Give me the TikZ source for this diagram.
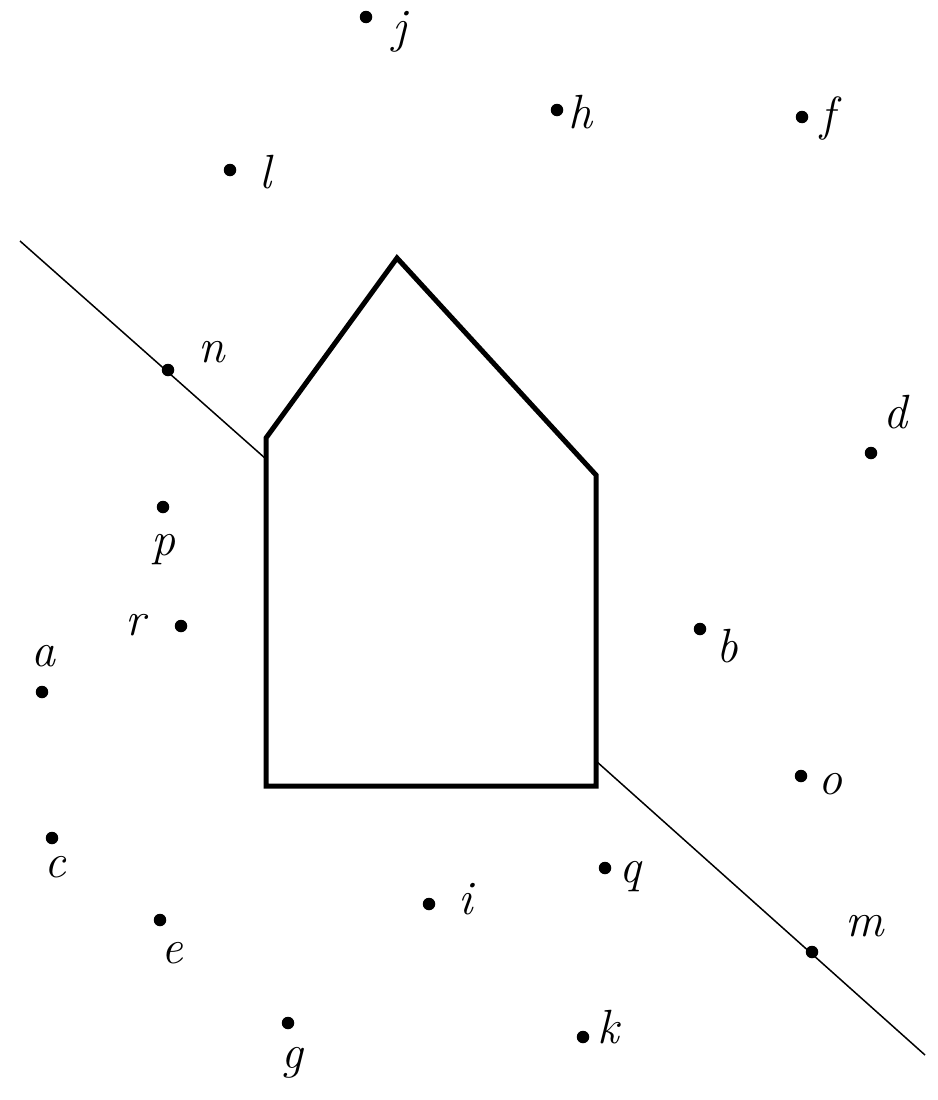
\documentclass[tikz,border=0pt]{standalone}
\begin{document}
\begin{tikzpicture}[x=1pt,y=-1pt,
  pt/.style={circle,fill=black,inner sep=0pt,minimum size=12.5pt},
  lbl/.style={anchor=base,inner sep=0pt,font=\fontsize{48}{54}\selectfont\itshape},
  house/.style={line width=5pt,line join=miter},
  thin/.style={line width=1.5pt}]
\useasboundingbox (0,0) rectangle (937,1100);
% house
\coordinate (h1) at (266,438);
\coordinate (h2) at (397,258);
\coordinate (h3) at (596,475);
\coordinate (h4) at (596,786);
\coordinate (h5) at (266,786);
\draw[house] (h1) -- (h2) -- (h3) -- (h4) -- (h5) -- cycle;
% line
\coordinate (l1) at (20,241);
\coordinate (l2) at (266,459);
\coordinate (l3) at (596,761);
\coordinate (l4) at (925,1055);
\draw[thin] (l1) -- (l2);
\draw[thin] (l3) -- (l4);
% points
\node[pt] (j) at (366,17) {};   \node[lbl] (tj) at (400,42) {j};
\node[pt] (h) at (557,110) {};  \node[lbl] (th) at (580,128) {h};
\node[pt] (f) at (802,117) {};  \node[lbl] (tf) at (828,130) {f};
\node[pt] (l) at (230,170) {};  \node[lbl] (tl) at (265,188) {l};
\node[pt] (n) at (168,370) {};  \node[lbl] (tn) at (212,362) {n};
\node[pt] (d) at (871,453) {};  \node[lbl] (td) at (895,428) {d};
\node[pt] (p) at (163,507) {};  \node[lbl] (tp) at (163,555) {p};
\node[pt] (r) at (181,626) {};  \node[lbl] (tr) at (135,635) {r};
\node[pt] (a) at (42,692) {};   \node[lbl] (ta) at (43,666) {a};
\node[pt] (b) at (700,629) {};  \node[lbl] (tb) at (727,662) {b};
\node[pt] (o) at (801,776) {};  \node[lbl] (to) at (830,794) {o};
\node[pt] (c) at (52,838) {};   \node[lbl] (tc) at (55,877) {c};
\node[pt] (q) at (605,868) {};  \node[lbl] (tq) at (630,882) {q};
\node[pt] (i) at (429,904) {};  \node[lbl] (ti) at (466,914) {i};
\node[pt] (e) at (160,920) {};  \node[lbl] (te) at (172,963) {e};
\node[pt] (m) at (812,952) {};  \node[lbl] (tm) at (865,936) {m};
\node[pt] (g) at (288,1023) {}; \node[lbl] (tg) at (292,1068) {g};
\node[pt] (k) at (583,1037) {}; \node[lbl] (tk) at (608,1043) {k};
\end{tikzpicture}
\end{document}
